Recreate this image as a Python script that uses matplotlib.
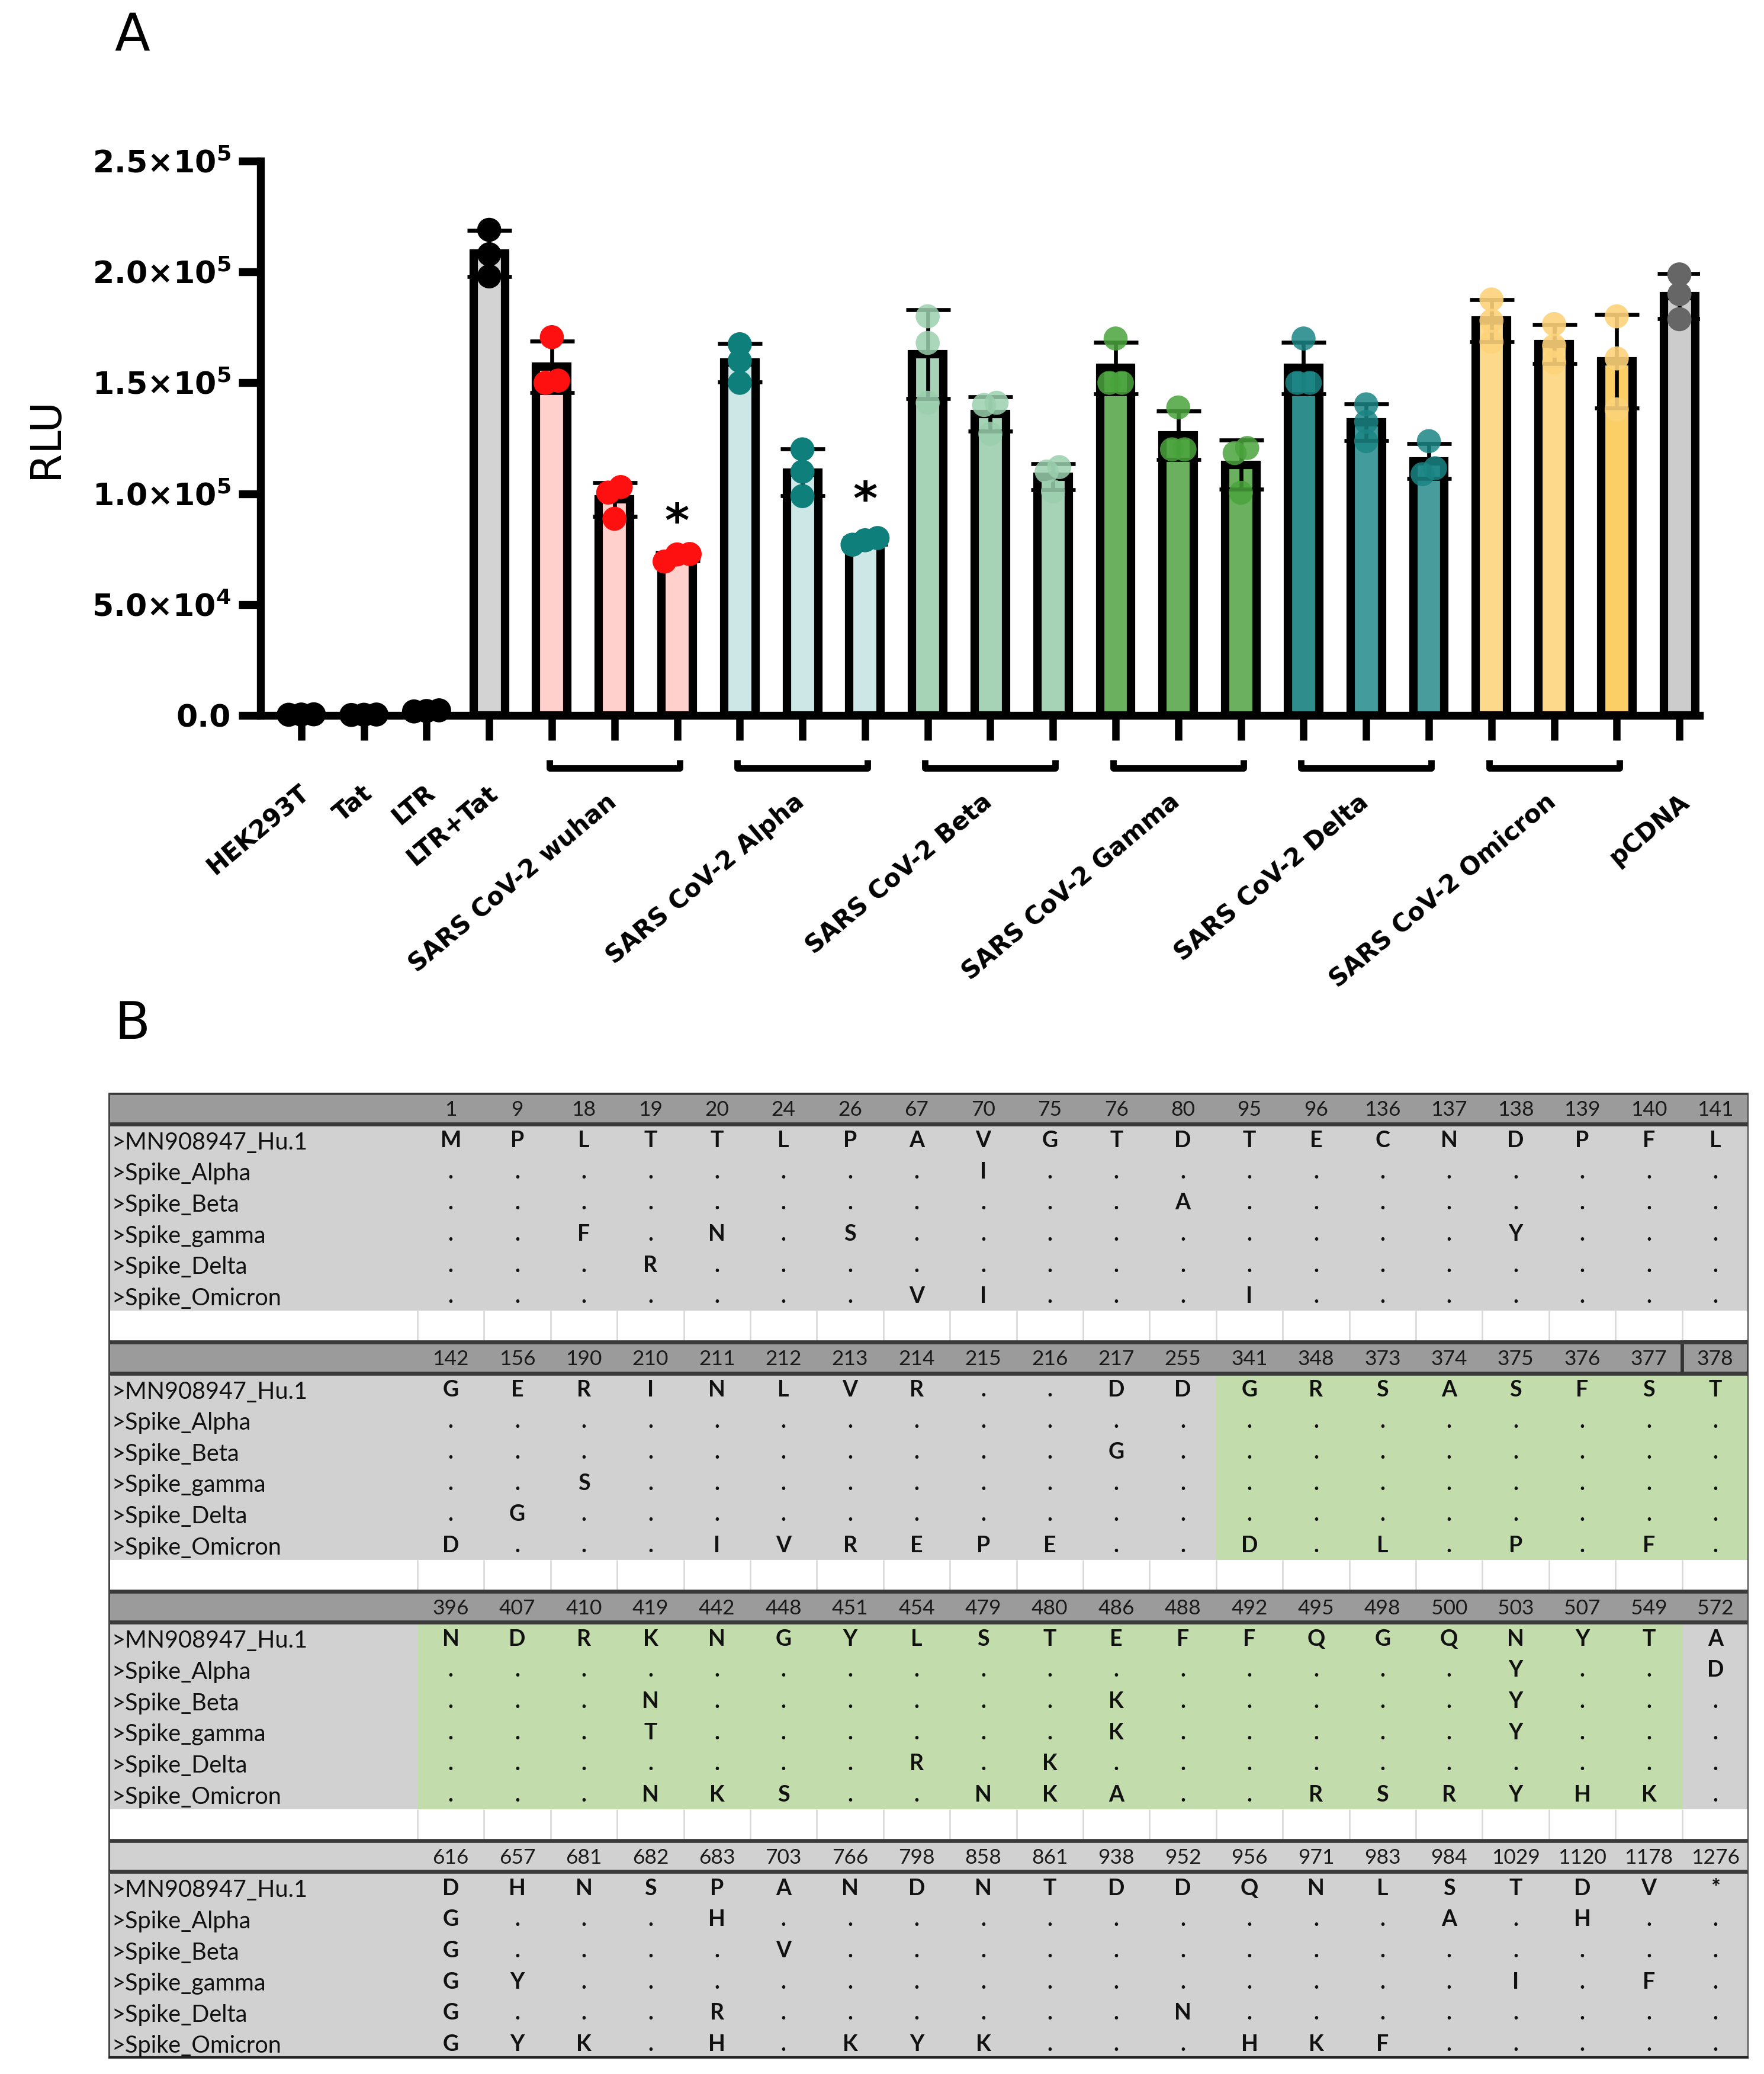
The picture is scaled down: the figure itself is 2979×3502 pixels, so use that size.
import numpy as np
import matplotlib
matplotlib.use('Agg')
import matplotlib.pyplot as plt
from matplotlib.patches import Rectangle

plt.rcParams['font.family'] = ['DejaVu Sans']
plt.rcParams['mathtext.fontset'] = 'custom'
plt.rcParams['mathtext.rm'] = 'DejaVu Sans:bold'
plt.rcParams['mathtext.it'] = 'DejaVu Sans:bold'
plt.rcParams['mathtext.bf'] = 'DejaVu Sans:bold'

# ---------------- Panel A: RLU, three replicates per condition ----------------
control_labels = ['HEK293T', 'Tat', 'LTR', 'LTR+Tat']
control_rlu = [[400, 300, 500], [300, 400, 200], [2300, 1800, 2000],
               [219000, 208000, 198000]]

variant_labels = ['SARS CoV-2 wuhan', 'SARS CoV-2 Alpha', 'SARS CoV-2 Beta',
                  'SARS CoV-2 Gamma', 'SARS CoV-2 Delta', 'SARS CoV-2 Omicron']
wuhan_rlu = [[170600, 151000, 150000], [103000, 100500, 88700], [69400, 72600, 72800]]
alpha_rlu = [[167400, 159900, 150000], [120000, 109900, 98900], [77000, 80000, 79000]]
beta_rlu = [[180000, 168000, 141000], [141000, 140000, 127000], [112000, 110000, 101000]]
gamma_rlu = [[170000, 150000, 150000], [138900, 120000, 120000], [120600, 118300, 100400]]
delta_rlu = [[170000, 150000, 150000], [140300, 132400, 123700], [123700, 111500, 108800]]
omicron_rlu = [[187600, 178000, 168500], [176500, 166700, 159100], [180000, 161000, 138000]]
variant_rlu = [wuhan_rlu, alpha_rlu, beta_rlu, gamma_rlu, delta_rlu, omicron_rlu]

pcdna_label = 'pCDNA'
pcdna_rlu = [198900, 190000, 178700]

star_bars = [6, 9]
star_heights = [86500, 96500]

ytick_values = [0, 50000, 100000, 150000, 200000, 250000]
ytick_labels = ['0.0', r'$5.0{\times}10^{4}$', r'$1.0{\times}10^{5}$',
                r'$1.5{\times}10^{5}$', r'$2.0{\times}10^{5}$', r'$2.5{\times}10^{5}$']

# colours
control_fill = ['#d9d9d9', '#d9d9d9', '#d9d9d9', '#d3d3d3']
control_dot = ['black', 'black', 'black', 'black']
variant_fill = [['#ffd0cc'] * 3, ['#cde6e6'] * 3, ['#a6d2b6'] * 3, ['#6bb05f'] * 3,
                ['#2f8d8c', '#449b9b', '#489c9c'], ['#fdda8b', '#fdda8b', '#fcce66']]
variant_dot = ['#ff1010', '#0f7f7c', '#9bcfad', '#4aa43d', '#1a8584', '#fdd37a']
variant_alpha = [1, 1, 0.85, 0.85, 0.85, 0.9]
pcdna_fill = '#cccccc'
pcdna_dot = '#666666'

# ---------------- Panel B: spike mutation table ----------------
positions = [
    [1, 9, 18, 19, 20, 24, 26, 67, 70, 75, 76, 80, 95, 96, 136, 137, 138, 139, 140, 141],
    [142, 156, 190, 210, 211, 212, 213, 214, 215, 216, 217, 255, 341, 348, 373, 374, 375, 376, 377, 378],
    [396, 407, 410, 419, 442, 448, 451, 454, 479, 480, 486, 488, 492, 495, 498, 500, 503, 507, 549, 572],
    [616, 657, 681, 682, 683, 703, 766, 798, 858, 861, 938, 952, 956, 971, 983, 984, 1029, 1120, 1178, 1276],
]
reference_seq = ['MPLTTLPAVGTDTECNDPFL', 'GERINLVR..DDGRSASFST',
                 'NDRKNGYLSTEFFQGQNYTA', 'DHNSPANDNTDDQNLSTDV*']
row_names = ['>MN908947_Hu.1', '>Spike_Alpha', '>Spike_Beta', '>Spike_gamma',
             '>Spike_Delta', '>Spike_Omicron']
alpha_mut = {70: 'I', 503: 'Y', 572: 'D', 616: 'G', 683: 'H', 984: 'A', 1120: 'H'}
beta_mut = {80: 'A', 217: 'G', 419: 'N', 486: 'K', 503: 'Y', 616: 'G', 703: 'V'}
gamma_mut = {18: 'F', 20: 'N', 26: 'S', 138: 'Y', 190: 'S', 419: 'T', 486: 'K', 503: 'Y',
             616: 'G', 657: 'Y', 1029: 'I', 1178: 'F'}
delta_mut = {19: 'R', 156: 'G', 454: 'R', 480: 'K', 616: 'G', 683: 'R', 952: 'N'}
omicron_mut = {67: 'V', 70: 'I', 95: 'I', 142: 'D', 211: 'I', 212: 'V', 213: 'R', 214: 'E',
               215: 'P', 216: 'E', 341: 'D', 373: 'L', 375: 'P', 377: 'F', 419: 'N', 442: 'K',
               448: 'S', 479: 'N', 480: 'K', 486: 'A', 495: 'R', 498: 'S', 500: 'R', 503: 'Y',
               507: 'H', 549: 'K', 616: 'G', 657: 'Y', 681: 'K', 683: 'H', 766: 'K', 798: 'Y',
               858: 'K', 956: 'H', 971: 'K', 983: 'F'}
variant_mut = [alpha_mut, beta_mut, gamma_mut, delta_mut, omicron_mut]
green_ranges = [(341, 378), (396, 549)]   # shaded RBD region

# ---------------- figure ----------------
W, H = 2979, 3502
fig = plt.figure(figsize=(W / 300, H / 300), dpi=300)

# flatten bars
bar_rlu = control_rlu + [v for grp in variant_rlu for v in grp] + [pcdna_rlu]
bar_fill = control_fill + [c for grp in variant_fill for c in grp] + [pcdna_fill]
bar_dot = control_dot + [c for c in variant_dot for _ in range(3)] + [pcdna_dot]
bar_alpha = [1] * 4 + [a for a in variant_alpha for _ in range(3)] + [1]
x = np.arange(len(bar_rlu))
means = np.array([np.mean(v) for v in bar_rlu])
sds = np.array([np.std(v, ddof=1) for v in bar_rlu])

ax = fig.add_axes([440 / W, 1 - 1208 / H, (2870 - 440) / W, (1208 - 272) / H])
ax.set_xlim(-0.65, len(x) - 0.68)
ax.set_ylim(0, 250000)

ax.bar(x, means, width=0.5, color=bar_fill, edgecolor='black', linewidth=3.4, zorder=2)
ax.errorbar(x, means, yerr=sds, fmt='none', ecolor='black', elinewidth=1.6,
            capsize=9, capthick=1.6, zorder=3)

# simple swarm: spread replicates that would overlap
px_y = 936 / 250000.0
for xi, vals, col, al in zip(x, bar_rlu, bar_dot, bar_alpha):
    order = np.argsort(vals)
    sv = np.array(vals)[order]
    clusters = [[sv[0]]]
    for v in sv[1:]:
        if (v - clusters[-1][-1]) * px_y < 23:
            clusters[-1].append(v)
        else:
            clusters.append([v])
    xs, ys = [], []
    for cl in clusters:
        n = len(cl)
        for k, v in enumerate(cl):
            xs.append(xi + (k - (n - 1) / 2) * 0.2)
            ys.append(v)
    ax.scatter(xs, ys, s=95, color=col, alpha=al, edgecolors='none', zorder=4, clip_on=False)

for b, h in zip(star_bars, star_heights):
    ax.text(x[b], h, '*', ha='center', va='center', fontsize=19, fontweight='bold')

for s in ['top', 'right']:
    ax.spines[s].set_visible(False)
for s in ['left', 'bottom']:
    ax.spines[s].set_linewidth(3.2)
ax.set_yticks(ytick_values)
ax.set_yticklabels(ytick_labels, fontsize=12.5, fontweight='bold')
ax.tick_params(axis='y', length=9, width=3.2, pad=3)
ax.set_xticks(x)
ax.set_xticklabels([])
ax.tick_params(axis='x', length=10, width=3)
ax.set_ylabel('RLU', fontsize=17)
ax.yaxis.set_label_coords(-0.135, 0.5)

trans = ax.get_xaxis_transform()
for i, lab in enumerate(control_labels):
    ax.text(x[i] - 0.05, -0.117, lab, transform=trans, rotation=40, rotation_mode='anchor',
            ha='right', va='top', fontsize=10, fontweight='bold')
for g, lab in enumerate(variant_labels):
    first = 4 + 3 * g
    ax.plot([x[first] - 0.04, x[first] - 0.04, x[first + 2] + 0.04, x[first + 2] + 0.04],
            [-0.080, -0.095, -0.095, -0.080], transform=trans, color='black', lw=2.6,
            clip_on=False, solid_capstyle='butt')
    ax.text(x[first + 1] - 0.15, -0.133, lab, transform=trans, rotation=40,
            rotation_mode='anchor', ha='right', va='top', fontsize=10, fontweight='bold')
ax.text(x[-1] - 0.02, -0.133, pcdna_label, transform=trans, rotation=40,
        rotation_mode='anchor', ha='right', va='top', fontsize=10, fontweight='bold')

fig.text(223 / W, 1 - 62 / H, 'A', fontsize=21, ha='center', va='center')
fig.text(223 / W, 1 - 1730 / H, 'B', fontsize=21, ha='center', va='center')

# ---------------- table ----------------
LABEL_W = (705 - 183) / 112.4
ncol = 20
tab = fig.add_axes([183 / W, 1 - 3476 / H, (2953 - 183) / W, (3476 - 1845) / H])
tab.set_xlim(-LABEL_W, ncol)
tab.set_ylim(31, 0)
tab.axis('off')
tfont = 'Lato'

for b, (pos, ref) in enumerate(zip(positions, reference_seq)):
    top = 8 * b
    head_fc = '#9b9b9b' if b < 3 else '#d1d1d1'
    tab.add_patch(Rectangle((-LABEL_W, top), LABEL_W + ncol, 1, fc=head_fc, ec='none'))
    tab.add_patch(Rectangle((-LABEL_W, top + 1), LABEL_W + ncol, 6, fc='#d1d1d1', ec='none'))
    for p0, p1 in green_ranges:
        if p0 in pos:
            c0 = pos.index(p0)
            c1 = pos.index(p1)
            tab.add_patch(Rectangle((c0, top + 1), c1 - c0 + 1, 6, fc='#c3dcab', ec='none'))
    tab.hlines([top, top + 1], -LABEL_W, ncol, color='#3a3a3a', lw=1.6)
    if b < 3:
        tab.vlines(np.arange(ncol + 1), top + 7, top + 8, color='#d6d6d6', lw=0.6)
    for j, p in enumerate(pos):
        tab.text(j + 0.5, top + 0.74, str(p), ha='center', va='baseline', fontsize=8.5,
                 family=tfont, color='#1a1a1a')
    for r, name in enumerate(row_names):
        y = top + 1 + r + 0.5
        tab.text(-LABEL_W + 0.05, y + 0.1, name, ha='left', va='center', fontsize=9.5,
                 family=tfont, color='#111111')
        for j, p in enumerate(pos):
            ch = ref[j] if r == 0 else variant_mut[r - 1].get(p, '.')
            tab.text(j + 0.5, y + 0.25, ch, ha='center', va='baseline', fontsize=9,
                     fontweight='bold', family=tfont, color='#111111')

# boxed header cell (position 378)
tab.add_patch(Rectangle((19, 8), 1, 1, fill=False, ec='#333333', lw=1.4))
tab.vlines([-LABEL_W, ncol], 0, 31, color='#444444', lw=1.2)
tab.hlines(31, -LABEL_W, ncol, color='#222222', lw=2.2)

fig.savefig('out.png', dpi=300)
